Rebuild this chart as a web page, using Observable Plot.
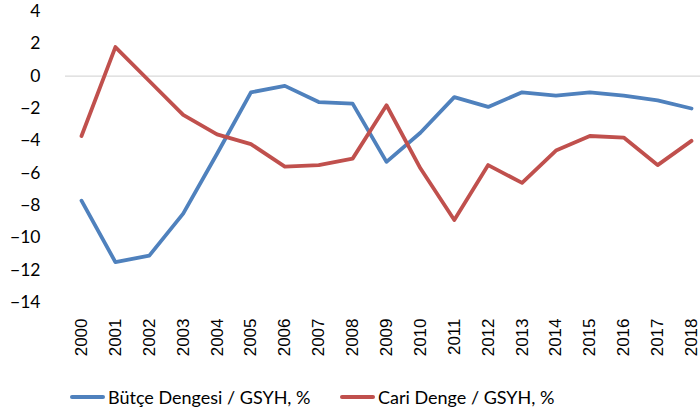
<!DOCTYPE html>
<html>
<head>
<meta charset="utf-8">
<script src="https://cdn.jsdelivr.net/npm/d3@7"></script>
<script src="https://cdn.jsdelivr.net/npm/@observablehq/plot@0.6"></script>
<style>
  html, body { margin: 0; padding: 0; background: #fff; }
  #chart { width: 700px; height: 416px; position: relative; }
  .legend { display: flex; align-items: center; height: 46px; font-family: Lato, "Open Sans", sans-serif; font-size: 18px; color: #000; }
  .legend .item { display: flex; align-items: center; position: absolute; }
  .legend .sw { width: 35px; height: 4px; margin-right: 3px; border-radius: 2px; }
</style>
</head>
<body>
<div id="chart"></div>
<script>
const years = [2000, 2001, 2002, 2003, 2004, 2005, 2006, 2007, 2008, 2009, 2010, 2011, 2012, 2013, 2014, 2015, 2016, 2017, 2018];
const butceDengesi = [-7.7, -11.5, -11.1, -8.5, -4.8, -1.0, -0.6, -1.6, -1.7, -5.3, -3.5, -1.3, -1.9, -1.0, -1.2, -1.0, -1.2, -1.5, -2.0];
const cariDenge = [-3.7, 1.8, -0.3, -2.4, -3.6, -4.2, -5.6, -5.5, -5.1, -1.8, -5.7, -8.9, -5.5, -6.6, -4.6, -3.7, -3.8, -5.5, -4.0];
const yTicks = [4, 2, 0, -2, -4, -6, -8, -10, -12, -14];
const seriesNames = ["Bütçe Dengesi / GSYH, %", "Cari Denge / GSYH, %"];
const colors = ["#4F81BD", "#C0504D"];

const rows = [];
years.forEach((y, i) => {
  rows.push({year: y, value: butceDengesi[i], series: seriesNames[0]});
  rows.push({year: y, value: cariDenge[i], series: seriesNames[1]});
});

const plot = Plot.plot({
  width: 700,
  height: 370,
  marginLeft: 81,
  marginRight: 9,
  marginTop: 11,
  marginBottom: 68,
  style: {background: "#fff"},
  x: {domain: [2000, 2018]},
  y: {domain: [-14, 4]},
  color: {domain: seriesNames, range: colors},
  marks: [
    Plot.ruleY([0], {stroke: "#d9d9d9", strokeWidth: 1.3, insetLeft: -16, insetRight: -9}),
    Plot.axisY({ticks: yTicks, tickSize: 0, tickPadding: 41, label: null, fontSize: 17.5, fontFamily: "Lato, 'Open Sans', sans-serif", fill: "#000"}),
    Plot.axisX({ticks: years, tickFormat: d => String(d), tickRotate: -90, tickSize: 0, tickPadding: 16, label: null, fontSize: 17, fontFamily: "'Liberation Sans', Arial, sans-serif", fill: "#000"}),
    Plot.line(rows, {x: "year", y: "value", z: "series", stroke: "series", strokeWidth: 3.8, strokeLinejoin: "round", strokeLinecap: "round"})
  ]
});

const chart = document.getElementById("chart");
chart.appendChild(plot);

const legend = document.createElement("div");
legend.className = "legend";
const lefts = [70, 340];
seriesNames.forEach((name, i) => {
  const item = document.createElement("div");
  item.className = "item";
  item.style.left = lefts[i] + "px";
  item.style.top = "386px";
  const sw = document.createElement("span");
  sw.className = "sw";
  sw.style.background = colors[i];
  const t = document.createElement("span");
  t.textContent = name;
  item.appendChild(sw);
  item.appendChild(t);
  legend.appendChild(item);
});
chart.appendChild(legend);
</script>
</body>
</html>
